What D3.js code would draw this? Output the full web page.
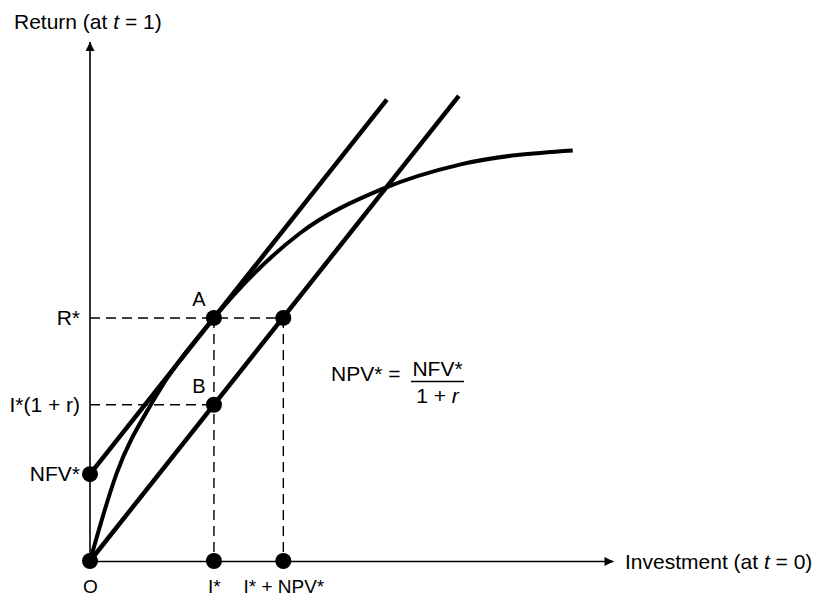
<!DOCTYPE html>
<html>
<head>
<meta charset="utf-8">
<script src="https://cdn.jsdelivr.net/npm/d3@7"></script>
<style>
  html, body { margin: 0; padding: 0; background: #fff; }
  svg { display: block; }
  text { font-family: "Liberation Sans", Arial, Helvetica, sans-serif; fill: #000; }
</style>
</head>
<body>
<svg id="chart" width="820" height="598"></svg>
<script>
// ---- data (units: I* = 1) ----
const xTickValues = [0, 1, 1.56];
const xTickLabels = ["O", "I*", "I* + NPV*"];
const yTickValues = [0.70, 1.26, 1.96];
const yTickLabels = ["NFV*", "I*(1 + r)", "R*"];

// production opportunity curve
const curveX = [0, 0.215, 0.508, 1.0, 1.694, 2.36, 3.0, 3.895];
const curveY = [0, 0.707, 1.29, 1.96, 2.643, 3.0, 3.2, 3.31];

// tangent line through NFV* and A, and parallel line through O
const tangentX = [0, 2.395];
const tangentY = [0.70, 3.72];
const originLineX = [0, 2.976];
const originLineY = [0, 3.75];

// marked points
const pointX = [0, 1, 1.56, 0, 1, 1, 1.56];
const pointY = [0, 0, 0, 0.70, 1.26, 1.96, 1.96];

// point letters
const letterText = ["A", "B"];
const letterX = [1, 1];
const letterY = [1.96, 1.26];

// guide (dashed) segments
const guideX0 = [0, 0, 1, 1.56];
const guideY0 = [1.96, 1.26, 1.96, 1.96];
const guideX1 = [1.56, 1, 1, 1.56];
const guideY1 = [1.96, 1.26, 0, 0];

const xMax = 4.22, yMax = 4.185;

// ---- drawing ----
const svg = d3.select("#chart");
const x = d3.scaleLinear().domain([0, xMax]).range([90, 613]);
const y = d3.scaleLinear().domain([0, yMax]).range([561, 42]);

const defs = svg.append("defs");
defs.append("marker")
  .attr("id", "arrow")
  .attr("viewBox", "0 0 10 10")
  .attr("refX", 10).attr("refY", 5)
  .attr("markerUnits", "userSpaceOnUse")
  .attr("markerWidth", 11).attr("markerHeight", 9)
  .attr("orient", "auto")
  .append("path").attr("d", "M0,0 L10,5 L0,10 Z").attr("fill", "#000");

// dashed guides
const guideIdx = d3.range(guideX0.length);
svg.append("g").selectAll("line").data(guideIdx).join("line")
  .attr("x1", i => x(guideX0[i])).attr("y1", i => y(guideY0[i]))
  .attr("x2", i => x(guideX1[i])).attr("y2", i => y(guideY1[i]))
  .attr("stroke", "#000").attr("stroke-width", 1.4)
  .attr("stroke-dasharray", "10,6");

// axes
const xAxis = d3.axisBottom(x).tickValues(xTickValues)
  .tickFormat((d, i) => xTickLabels[i]).tickSize(0).tickSizeOuter(0).tickPadding(19);
const gx = svg.append("g").attr("transform", `translate(0,${y(0)})`).call(xAxis);
gx.select(".domain").attr("stroke", "#000").attr("stroke-width", 1.6).attr("marker-end", "url(#arrow)");
gx.selectAll(".tick text").attr("font-size", 19).attr("font-family", "Liberation Sans, Arial, sans-serif").attr("fill", "#000");

const yAxis = d3.axisLeft(y).tickValues(yTickValues)
  .tickFormat((d, i) => yTickLabels[i]).tickSize(0).tickSizeOuter(0).tickPadding(10);
const gy = svg.append("g").attr("transform", `translate(${x(0)},0)`).call(yAxis);
gy.select(".domain").attr("stroke", "#000").attr("stroke-width", 1.6)
  .attr("d", `M0,${y(0)}V${y(yMax)}`).attr("marker-end", "url(#arrow)");
gy.selectAll(".tick text").attr("font-size", 21).attr("font-family", "Liberation Sans, Arial, sans-serif").attr("fill", "#000");

// axis titles
const yTitle = svg.append("text").attr("x", 14).attr("y", 29).attr("font-size", 21);
yTitle.append("tspan").text("Return (at ");
yTitle.append("tspan").attr("font-style", "italic").text("t");
yTitle.append("tspan").text(" = 1)");

const xTitle = svg.append("text").attr("x", 625).attr("y", 569).attr("font-size", 21);
xTitle.append("tspan").text("Investment (at ");
xTitle.append("tspan").attr("font-style", "italic").text("t");
xTitle.append("tspan").text(" = 0)");

// curve and lines
const curveGen = d3.line().x(d => x(d[0])).y(d => y(d[1])).curve(d3.curveMonotoneX);
svg.append("path")
  .attr("d", curveGen(d3.zip(curveX, curveY)))
  .attr("fill", "none").attr("stroke", "#000").attr("stroke-width", 4);

const straight = d3.line().x(d => x(d[0])).y(d => y(d[1]));
svg.append("path").attr("d", straight(d3.zip(tangentX, tangentY)))
  .attr("fill", "none").attr("stroke", "#000").attr("stroke-width", 4.5);
svg.append("path").attr("d", straight(d3.zip(originLineX, originLineY)))
  .attr("fill", "none").attr("stroke", "#000").attr("stroke-width", 4.5);

// points
svg.append("g").selectAll("circle").data(d3.range(pointX.length)).join("circle")
  .attr("cx", i => x(pointX[i])).attr("cy", i => y(pointY[i])).attr("r", 8).attr("fill", "#000");

// letters
svg.append("g").selectAll("text").data(d3.range(letterText.length)).join("text")
  .attr("x", i => x(letterX[i]) - 15).attr("y", i => y(letterY[i]) - 12)
  .attr("text-anchor", "middle").attr("font-size", 20).text(i => letterText[i]);

// formula
const fg = svg.append("g");
fg.append("text").attr("x", 331).attr("y", 381).attr("font-size", 21).text("NPV* =");
fg.append("line").attr("x1", 411).attr("x2", 464).attr("y1", 381.5).attr("y2", 381.5)
  .attr("stroke", "#000").attr("stroke-width", 1.3);
fg.append("text").attr("x", 437.5).attr("y", 376).attr("text-anchor", "middle").attr("font-size", 21).text("NFV*");
const den = fg.append("text").attr("x", 437.5).attr("y", 403).attr("text-anchor", "middle").attr("font-size", 21);
den.append("tspan").text("1 + ");
den.append("tspan").attr("font-style", "italic").text("r");
</script>
</body>
</html>
